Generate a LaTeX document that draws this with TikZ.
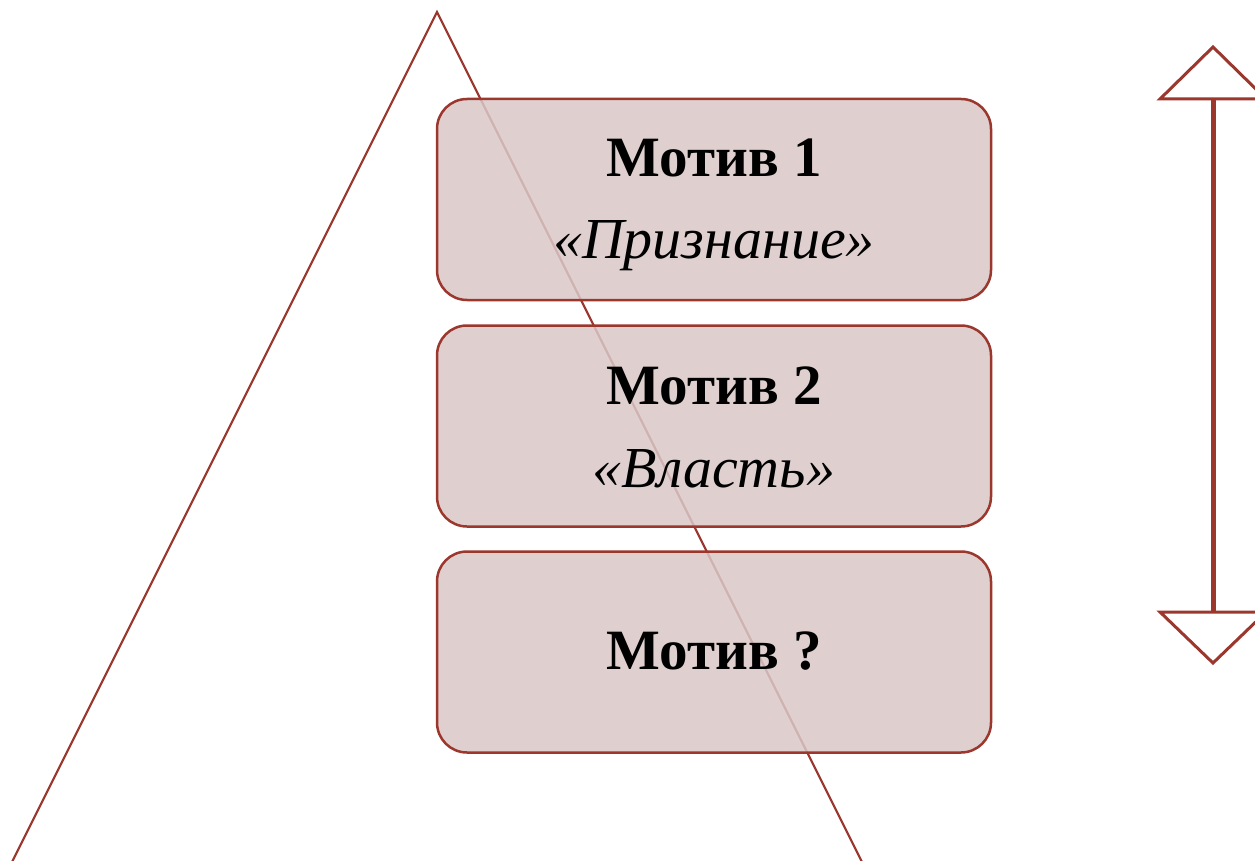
\documentclass[tikz,border=0pt]{standalone}
\usepackage{fontspec}
\setmainfont{Liberation Serif}
\definecolor{edge}{RGB}{155,55,45}
\definecolor{boxfill}{RGB}{217,199,199}
\begin{document}
\begin{tikzpicture}[x=1pt,y=-1pt,
  tri/.style={draw=edge,line width=2.2pt},
  box/.style={draw=edge,line width=2.5pt,fill=boxfill,fill opacity=0.85,rounded corners=30pt,minimum width=554pt,minimum height=201pt,inner sep=0pt},
  title/.style={font=\fontsize{57}{57}\selectfont\bfseries,anchor=base,inner sep=0pt},
  sub/.style={font=\fontsize{58}{58}\selectfont\itshape,anchor=base,inner sep=0pt},
  shaft/.style={draw=edge,line width=5pt},
  head/.style={draw=edge,line width=3pt,fill=white,line join=miter}]
\useasboundingbox (0,0) rectangle (1255,861);
\coordinate (apex) at (437,12);
\coordinate (tl) at (7,872);
\coordinate (tr) at (867,872);
\draw[tri] (tl) -- (apex) -- (tr);
\node[box] (b1) at (714,199.5) {};
\node[box] (b2) at (714,426) {};
\node[box] (b3) at (714,652) {};
\node[title] (t1) at (714,177) {Мотив 1};
\node[sub] (s1) at (714,258) {«Признание»};
\node[title] (t2) at (714,404) {Мотив 2};
\node[sub] (s2) at (714,487) {«Власть»};
\node[title] (t3) at (714,669) {Мотив ?};
\coordinate (atop) at (1213,99);
\coordinate (abot) at (1213,612);
\draw[shaft] (atop) -- (abot);
\draw[head] (1213,47) -- (1160,99) -- (1266,99) -- cycle;
\draw[head] (1160,612) -- (1266,612) -- (1213,663) -- cycle;
\end{tikzpicture}
\end{document}
